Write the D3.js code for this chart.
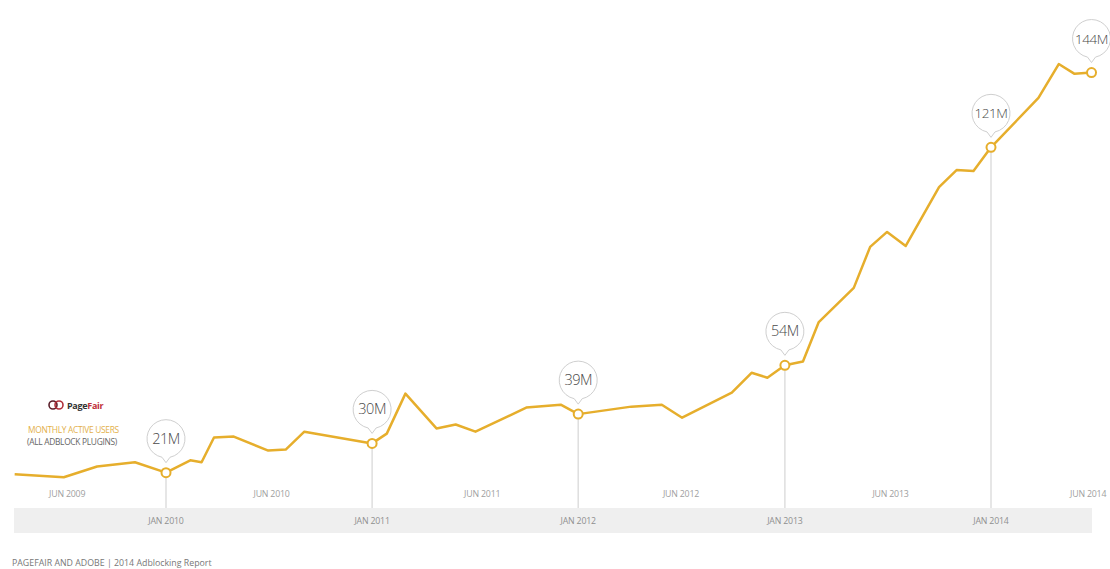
<!DOCTYPE html>
<html>
<head>
<meta charset="utf-8">
<script src="https://cdn.jsdelivr.net/npm/d3@7"></script>
<style>
  body { margin: 0; background: #fff; }
  text { font-family: "Open Sans", "Lato", sans-serif; }
</style>
</head>
<body>
<script>
let width = 1110
let height = 569

// monthly active users, millions
let dates = ["2009-04-08","2009-07-04","2009-09-01","2009-11-07","2010-01-01","2010-02-13",
  "2010-03-05","2010-03-27","2010-05-01","2010-07-01","2010-08-01","2010-09-03","2011-01-01",
  "2011-01-27","2011-03-01","2011-04-25","2011-05-29","2011-07-03","2011-10-01","2011-12-01",
  "2012-01-01","2012-04-04","2012-05-28","2012-07-03","2012-09-29","2012-11-03","2012-12-01",
  "2013-01-01","2013-02-02","2013-03-02","2013-05-03","2013-06-01","2013-07-01","2013-08-03",
  "2013-10-01","2013-11-01","2013-12-01","2014-01-01","2014-03-26","2014-05-01","2014-05-29",
  "2014-06-28"]
let users = [20.5,19.6,22.9,24.2,21,24.8,24.2,31.8,32.1,27.8,28.1,33.6,30,
  33.0,45.3,34.6,35.8,33.6,41.0,41.9,39,41.3,41.9,37.9,45.6,51.7,50.2,
  54,55.2,67.3,77.8,90.4,95.0,90.7,108.8,114.0,113.7,121,136.2,146.6,143.6,144]

// callouts
let calloutDates = ["2010-01-01","2011-01-01","2012-01-01","2013-01-01","2014-01-01","2014-06-28"]
let calloutLabels = ["21M","30M","39M","54M","121M","144M"]
let calloutValues = [21,30,39,54,121,144]

let janTicks = ["2010-01-01","2011-01-01","2012-01-01","2013-01-01","2014-01-01"]
let janLabels = ["JAN 2010","JAN 2011","JAN 2012","JAN 2013","JAN 2014"]
let junTicks = ["2009-07-10","2010-07-07","2011-07-15","2012-07-01","2013-07-07","2014-06-22"]
let junLabels = ["JUN 2009","JUN 2010","JUN 2011","JUN 2012","JUN 2013","JUN 2014"]

let parse = d3.timeParse("%Y-%m-%d")
let data = dates.map((d,i) => ({date: parse(d), value: users[i]}))

let x = d3.scaleTime().domain([parse("2010-01-01"), parse("2014-01-01")]).range([166, 991])
let y = d3.scaleLinear().domain([0, 150]).range([541, 53])

let lineColor = "#e6ae2c"
let bandTop = 508
let bandBottom = 533

let svg = d3.select("body").append("svg").attr("width", width).attr("height", height)

// grey band for jan labels
svg.append("rect")
  .attr("x", 14).attr("y", bandTop)
  .attr("width", 1078).attr("height", bandBottom - bandTop)
  .attr("fill", "#efefef")

// jan labels
svg.selectAll(".jan")
  .data(janTicks)
  .join("text")
  .attr("class", "jan")
  .attr("x", d => x(parse(d)))
  .attr("y", 524)
  .attr("text-anchor", "middle")
  .attr("font-size", 8.8)
  .attr("letter-spacing", -0.2)
  .attr("fill", "#8f8f8f")
  .text((d,i) => janLabels[i])

// jun labels
svg.selectAll(".jun")
  .data(junTicks)
  .join("text")
  .attr("class", "jun")
  .attr("x", d => x(parse(d)))
  .attr("y", 497)
  .attr("text-anchor", "middle")
  .attr("font-size", 8.8)
  .attr("letter-spacing", -0.2)
  .attr("fill", "#a0a0a0")
  .text((d,i) => junLabels[i])

let callouts = calloutDates.map((d,i) => ({date: parse(d), value: calloutValues[i], label: calloutLabels[i]}))

// drop lines from callouts to band (not for last)
svg.selectAll(".drop")
  .data(callouts.slice(0, 5))
  .join("line")
  .attr("class", "drop")
  .attr("x1", d => x(d.date)).attr("x2", d => x(d.date))
  .attr("y1", d => y(d.value)).attr("y2", bandTop)
  .attr("stroke", "#dedede")
  .attr("stroke-width", 1.5)

// the line
svg.append("path")
  .datum(data)
  .attr("fill", "none")
  .attr("stroke", lineColor)
  .attr("stroke-width", 2.5)
  .attr("stroke-linejoin", "round")
  .attr("d", d3.line().x(d => x(d.date)).y(d => y(d.value)))

// markers
svg.selectAll(".marker")
  .data(callouts)
  .join("circle")
  .attr("class", "marker")
  .attr("cx", d => x(d.date))
  .attr("cy", d => y(d.value))
  .attr("r", 4.5)
  .attr("fill", "#fff")
  .attr("stroke", lineColor)
  .attr("stroke-width", 2)

// bubbles
let r = 19
let lift = 34
let bubble = svg.selectAll(".bubble")
  .data(callouts)
  .join("g")
  .attr("class", "bubble")
  .attr("transform", d => "translate(" + x(d.date) + "," + (y(d.value) - lift) + ")")

bubble.append("path")
  .attr("d", () => {
    let a = Math.asin(4 / r)
    let sx = r * Math.sin(a), sy = r * Math.cos(a)
    return "M" + (-sx) + "," + sy + " A" + r + "," + r + " 0 1 1 " + sx + "," + sy + " L0," + (r + 5) + " Z"
  })
  .attr("fill", "#fff")
  .attr("stroke", "#cfcfcf")
  .attr("stroke-width", 1)

bubble.append("text")
  .attr("text-anchor", "middle")
  .attr("y", 5)
  .attr("font-size", d => d.label.length > 3 ? 13.5 : 14.5)
  .attr("font-weight", 300)
  .attr("letter-spacing", -0.5)
  .attr("fill", "#4a4a4a")
  .text(d => d.label)

// pagefair logo
let logo = svg.append("g").attr("transform", "translate(56,405)")
logo.append("circle").attr("cx", -3).attr("r", 4).attr("fill", "none").attr("stroke", "#5a1f2a").attr("stroke-width", 1.6)
logo.append("circle").attr("cx", 3).attr("r", 4).attr("fill", "none").attr("stroke", "#b0303a").attr("stroke-width", 1.6)
let lt = logo.append("text").attr("x", 11).attr("y", 3.5).attr("font-size", 9).attr("font-weight", 700).attr("letter-spacing", -0.3)
lt.append("tspan").attr("fill", "#333").text("Page")
lt.append("tspan").attr("fill", "#c0303a").text("Fair")

svg.append("text")
  .attr("x", 28).attr("y", 433)
  .attr("font-size", 8.4)
  .attr("fill", "#e3b04a")
  .attr("letter-spacing", -0.3)
  .text("MONTHLY ACTIVE USERS")
svg.append("text")
  .attr("x", 27).attr("y", 445)
  .attr("font-size", 8.4)
  .attr("fill", "#666")
  .attr("letter-spacing", -0.3)
  .text("(ALL ADBLOCK PLUGINS)")

// footer
svg.append("text")
  .attr("x", 12).attr("y", 566)
  .attr("font-size", 8.8)
  .attr("fill", "#777")
  .text("PAGEFAIR AND ADOBE | 2014 Adblocking Report")
</script>
</body>
</html>
